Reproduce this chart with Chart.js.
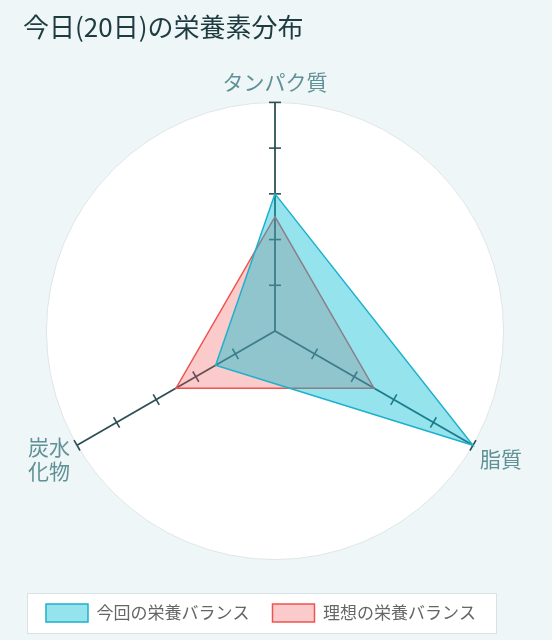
<!DOCTYPE html>
<html>
<head>
<meta charset="utf-8">
<script src="https://cdn.jsdelivr.net/npm/chart.js@4/dist/chart.umd.min.js"></script>
<style>
html,body{margin:0;padding:0;background:#eef6f7;}
#wrap{width:552px;height:640px;position:relative;}
</style>
</head>
<body>
<div id="wrap"><canvas id="c"></canvas></div>
<script>
const titleText = '今日(20日)の栄養素分布';
const categories = ['タンパク質', '脂質', ['炭水', '化物']];
const currentLabel = '今回の栄養バランス';
const idealLabel = '理想の栄養バランス';
const currentValues = [3, 5, 1.5];
const idealValues = [2.5, 2.5, 2.5];
const scaleMax = 5;
const scaleStep = 1;

const FONT = "'Noto Sans CJK JP', 'Noto Sans', sans-serif";
const LABEL_SIZE = 21;
const LABEL_PAD = 8;

const axisTicks = {
  id: 'axisTicks',
  beforeDatasetsDraw(chart) {
    const r = chart.scales.r;
    const ctx = chart.ctx;
    ctx.save();
    ctx.strokeStyle = '#2e4f56';
    ctx.lineWidth = 1.6;
    const n = chart.data.labels.length;
    for (let i = 0; i < n; i++) {
      const ang = r.getIndexAngle(i) - Math.PI / 2;
      const px = -Math.sin(ang), py = Math.cos(ang);
      for (let v = scaleStep; v <= scaleMax + 1e-9; v += scaleStep) {
        const p = r.getPointPosition(i, r.getDistanceFromCenterForValue(v));
        ctx.beginPath();
        ctx.moveTo(p.x - px * 6, p.y - py * 6);
        ctx.lineTo(p.x + px * 6, p.y + py * 6);
        ctx.stroke();
      }
    }
    ctx.restore();
  }
};

const centeredLabels = {
  id: 'centeredLabels',
  afterDraw(chart) {
    const r = chart.scales.r;
    const ctx = chart.ctx;
    const lh = LABEL_SIZE * 1.15;
    ctx.save();
    ctx.fillStyle = '#5f9196';
    ctx.font = LABEL_SIZE + 'px ' + FONT;
    ctx.textBaseline = 'middle';
    chart.data.labels.forEach((lab, i) => {
      const lines = Array.isArray(lab) ? lab : [lab];
      const p = r.getPointPosition(i, r.drawingArea + LABEL_PAD);
      const a = r.getIndexAngle(i);
      let align = 'center', cy;
      if (Math.abs(Math.sin(a)) < 0.01) {
        cy = p.y - lh / 2 - (lines.length - 1) * lh / 2;
      } else {
        align = Math.sin(a) > 0 ? 'left' : 'right';
        cy = p.y + 9.5;
      }
      ctx.textAlign = align;
      const start = cy - (lines.length - 1) * lh / 2;
      lines.forEach((t, k) => ctx.fillText(t, p.x, start + k * lh));
    });
    ctx.restore();
  }
};

const legendBox = {
  id: 'legendBox',
  beforeDraw(chart) {
    const lg = chart.legend;
    if (!lg || !lg.legendHitBoxes.length) return;
    const hb = lg.legendHitBoxes;
    const first = hb[0], last = hb[hb.length - 1];
    const x0 = first.left - 19, x1 = last.left + last.width + 21;
    const y0 = first.top - 11, y1 = first.top + first.height + 12;
    const ctx = chart.ctx;
    ctx.save();
    ctx.fillStyle = '#ffffff';
    ctx.strokeStyle = '#d9e3e5';
    ctx.lineWidth = 1;
    ctx.fillRect(x0, y0, x1 - x0, y1 - y0);
    ctx.strokeRect(x0 + 0.5, y0 + 0.5, x1 - x0 - 1, y1 - y0 - 1);
    ctx.restore();
  }
};

new Chart(document.getElementById('c'), {
  type: 'radar',
  data: {
    labels: categories,
    datasets: [
      {
        label: currentLabel,
        data: currentValues,
        backgroundColor: 'rgba(0,188,212,0.42)',
        borderColor: '#1fb0cc',
        borderWidth: 1.5,
        pointRadius: 0,
        pointHoverRadius: 0
      },
      {
        label: idealLabel,
        data: idealValues,
        backgroundColor: 'rgba(239,83,80,0.3)',
        borderColor: '#ef5350',
        borderWidth: 1.5,
        pointRadius: 0,
        pointHoverRadius: 0
      }
    ]
  },
  options: {
    responsive: true,
    maintainAspectRatio: false,
    animation: false,
    layout: { padding: { left: 23, right: 23, top: 0, bottom: 8 } },
    plugins: {
      title: {
        display: true,
        text: titleText,
        align: 'start',
        color: '#1e3b40',
        font: { family: FONT, size: 26, weight: 'normal' },
        padding: { top: 12, bottom: 14 }
      },
      legend: {
        position: 'bottom',
        align: 'start',
        labels: {
          boxWidth: 42,
          boxHeight: 18,
          padding: 23,
          color: '#666666',
          font: { family: FONT, size: 17 }
        }
      },
      tooltip: { enabled: false }
    },
    scales: {
      r: {
        min: 0,
        max: scaleMax,
        backgroundColor: '#ffffff',
        ticks: { display: false, stepSize: scaleStep },
        grid: {
          circular: true,
          color: (c) => c.index === scaleMax / scaleStep ? '#dfe5e6' : 'rgba(0,0,0,0)',
          lineWidth: 1
        },
        angleLines: { color: '#2e4f56', lineWidth: 1.8 },
        pointLabels: {
          color: 'rgba(0,0,0,0)',
          padding: LABEL_PAD,
          font: { family: FONT, size: LABEL_SIZE }
        }
      }
    }
  },
  plugins: [axisTicks, centeredLabels, legendBox]
});
</script>
</body>
</html>
